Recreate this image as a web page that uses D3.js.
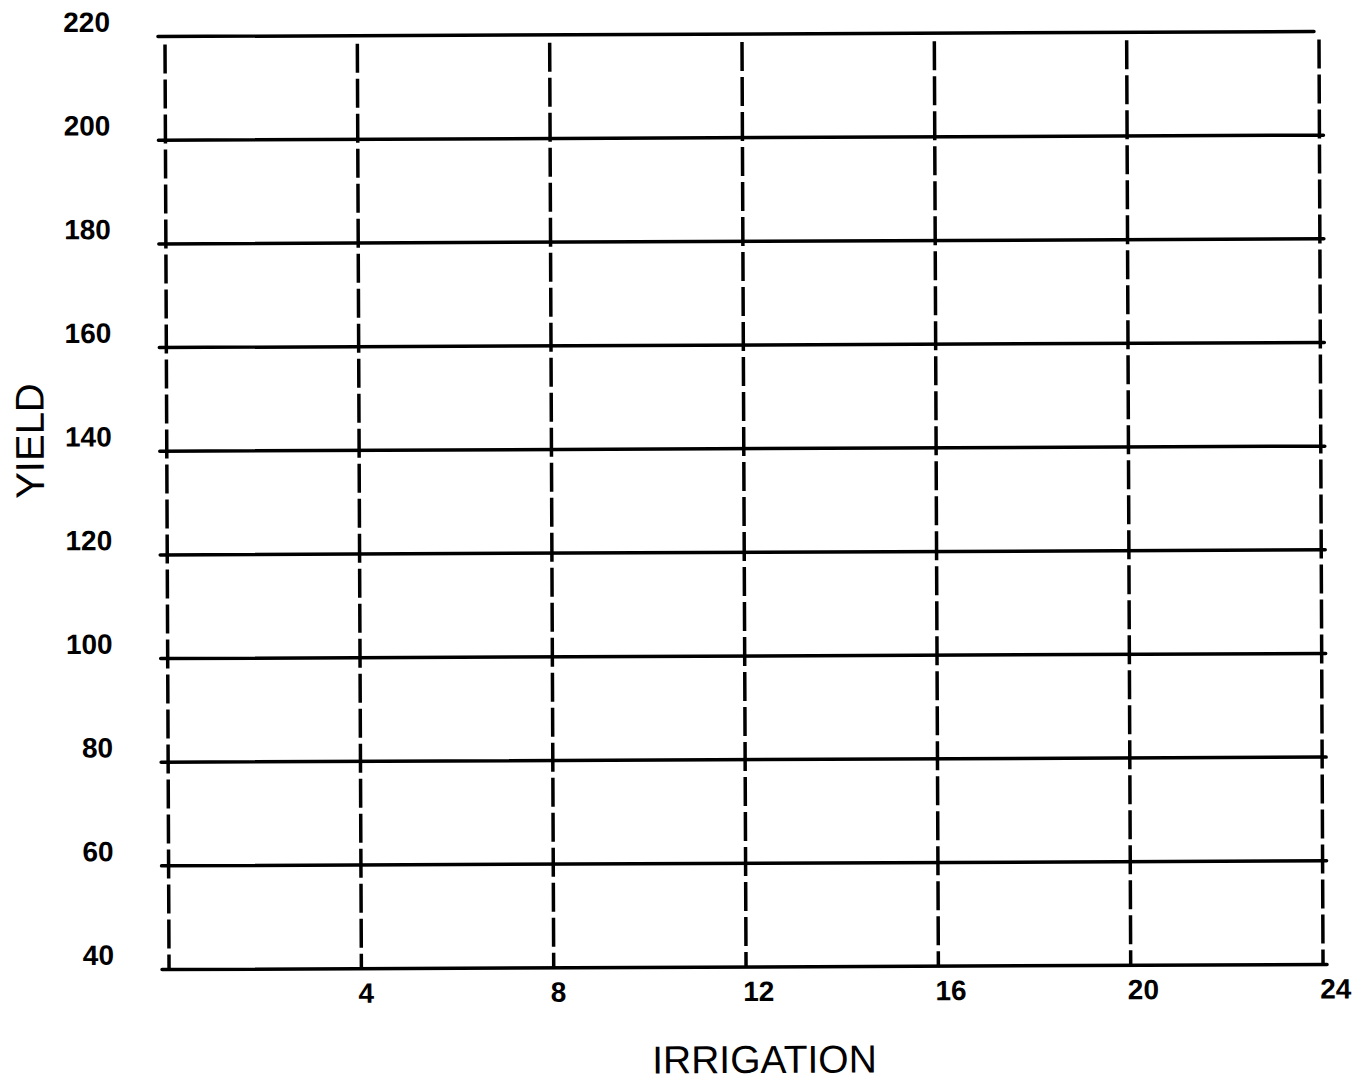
<!DOCTYPE html>
<html><head><meta charset="utf-8">
<script src="https://cdn.jsdelivr.net/npm/d3@7"></script>
<style>body{margin:0;background:#fff}svg{display:block}</style>
</head><body>
<script>
const yTicks = [40,60,80,100,120,140,160,180,200,220];
const xTicks = [0,4,8,12,16,20,24];
const xTickLabels = ["","4","8","12","16","20","24"];
const yTickLabels = ["40","60","80","100","120","140","160","180","200","220"];
const xTitle = "IRRIGATION", yTitle = "YIELD";

const W = 1363, H = 1081;
const svg = d3.select("body").append("svg").attr("width", W).attr("height", H);
const g = svg.append("g").attr("transform", "rotate(-0.25,743,500)");
const x = d3.scaleLinear().domain([0,24]).range([167,1321]);
const y = d3.scaleLinear().domain([40,220]).range([967,34]);
const font = "'Liberation Sans', Arial, Helvetica, sans-serif";

// horizontal solid lines
g.selectAll("line.h").data(yTicks).join("line").attr("class","h")
  .attr("x1", x(0)-7)
  .attr("x2", d => d===220 ? x(24)-5 : x(24)+4)
  .attr("y1", d => y(d)).attr("y2", d => y(d))
  .attr("stroke","#000").attr("stroke-width",3.5).attr("stroke-linecap","round");

// vertical dashed lines
g.selectAll("line.v").data(xTicks).join("line").attr("class","v")
  .attr("x1", d => x(d)).attr("x2", d => x(d))
  .attr("y1", y(220)+8).attr("y2", y(40))
  .attr("stroke","#000").attr("stroke-width",3.5)
  .attr("stroke-dasharray","29,6");

// y tick labels
g.selectAll("text.yl").data(yTicks).join("text").attr("class","yl")
  .attr("x", 112).attr("y", d => y(d)-5)
  .attr("text-anchor","end")
  .attr("font-family",font).attr("font-size",28).attr("font-weight","bold")
  .text((d,i) => yTickLabels[i]);

// x tick labels
g.selectAll("text.xl").data(xTicks).join("text").attr("class","xl")
  .attr("x", d => x(d)-3).attr("y", y(40)+34)
  .attr("text-anchor","start")
  .attr("font-family",font).attr("font-size",28).attr("font-weight","bold")
  .text((d,i) => xTickLabels[i]);

// axis titles
g.append("text").attr("x", 762).attr("y", 1073).attr("text-anchor","middle")
  .attr("font-family",font).attr("font-size",39).text(xTitle);
g.append("text").attr("transform","translate(44,438) rotate(-90)").attr("text-anchor","middle")
  .attr("font-family",font).attr("font-size",40).text(yTitle);
</script>
</body></html>
